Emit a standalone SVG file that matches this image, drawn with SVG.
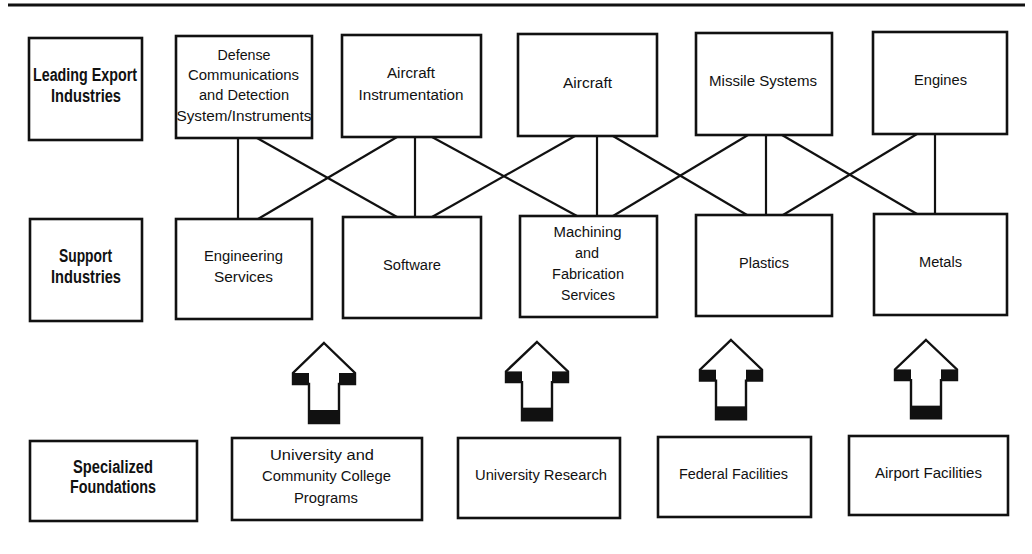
<svg xmlns="http://www.w3.org/2000/svg" width="1032" height="554" viewBox="0 0 1032 554">
<style>
.box{fill:#fff;stroke:#111;stroke-width:2.6}
.t{font-family:"Liberation Sans",Arial,sans-serif;font-size:14px;fill:#111;text-anchor:middle}
.b{font-family:"Liberation Sans",Arial,sans-serif;font-size:17.5px;font-weight:bold;fill:#111;text-anchor:middle}
.c line{stroke:#111;stroke-width:2.2}
.ar{fill:#fff;stroke:#111;stroke-width:2.4;stroke-linejoin:miter}
</style>
<defs>
<g id="arrow">
<polygon class="ar" points="0,0 31,30 31,41 15,41 15,80 -15,80 -15,41 -31,41 -31,30"/>
<rect x="-31" y="30" width="16" height="11" fill="#111"/>
<rect x="15" y="30" width="16" height="11" fill="#111"/>
<rect x="-15" y="67" width="30" height="13" fill="#111"/>
</g>
</defs>
<rect width="1032" height="554" fill="#fff"/>
<line x1="8" y1="5" x2="1025" y2="5" stroke="#111" stroke-width="3.2"/>

<g id="connectors" class="c">
<line x1="238" y1="138" x2="238" y2="219"/>
<line x1="415" y1="137" x2="415" y2="217"/>
<line x1="597" y1="136" x2="597" y2="216"/>
<line x1="766" y1="135" x2="766" y2="215"/>
<line x1="935" y1="134" x2="935" y2="214"/>
<line x1="257" y1="138" x2="397" y2="217"/>
<line x1="397" y1="137" x2="258" y2="219"/>
<line x1="432" y1="137" x2="577" y2="216"/>
<line x1="575" y1="136" x2="432" y2="217"/>
<line x1="613" y1="136" x2="747" y2="215"/>
<line x1="748" y1="135" x2="613" y2="216"/>
<line x1="782" y1="135" x2="917" y2="214"/>
<line x1="917" y1="134" x2="783" y2="215"/>
</g>

<g id="arrows">
<use href="#arrow" transform="translate(324,343)"/>
<use href="#arrow" transform="translate(537,342) translate(0,0) scale(1,0.98)"/>
<use href="#arrow" transform="translate(731,340) scale(1,0.99)"/>
<use href="#arrow" transform="translate(926,340) scale(1,0.98)"/>
</g>

<g id="label-leading">
<rect class="box" x="29" y="38" width="113" height="102"/>
<text class="b" x="85" y="81" textLength="104" lengthAdjust="spacingAndGlyphs">Leading Export</text>
<text class="b" x="86" y="102" textLength="70" lengthAdjust="spacingAndGlyphs">Industries</text>
</g>
<g id="defense">
<rect class="box" x="176" y="36" width="136" height="102"/>
<text class="t" x="244" y="60" textLength="53" lengthAdjust="spacingAndGlyphs">Defense</text>
<text class="t" x="243.5" y="80" textLength="111" lengthAdjust="spacingAndGlyphs">Communications</text>
<text class="t" x="244" y="100" textLength="90" lengthAdjust="spacingAndGlyphs">and Detection</text>
<text class="t" x="244" y="121" textLength="135" lengthAdjust="spacingAndGlyphs">System/Instruments</text>
</g>
<g id="aircraft-instrumentation">
<rect class="box" x="342" y="35" width="139" height="102"/>
<text class="t" x="411" y="78" textLength="48" lengthAdjust="spacingAndGlyphs">Aircraft</text>
<text class="t" x="411" y="100" textLength="105" lengthAdjust="spacingAndGlyphs">Instrumentation</text>
</g>
<g id="aircraft">
<rect class="box" x="518" y="34" width="139" height="102"/>
<text class="t" x="587.5" y="88" textLength="49" lengthAdjust="spacingAndGlyphs">Aircraft</text>
</g>
<g id="missile-systems">
<rect class="box" x="696" y="33" width="136" height="102"/>
<text class="t" x="763" y="86" textLength="108" lengthAdjust="spacingAndGlyphs">Missile Systems</text>
</g>
<g id="engines">
<rect class="box" x="873" y="32" width="134" height="102"/>
<text class="t" x="940.5" y="85" textLength="53" lengthAdjust="spacingAndGlyphs">Engines</text>
</g>

<g id="label-support">
<rect class="box" x="30" y="219" width="112" height="102"/>
<text class="b" x="85.5" y="262" textLength="53" lengthAdjust="spacingAndGlyphs">Support</text>
<text class="b" x="86" y="283" textLength="70" lengthAdjust="spacingAndGlyphs">Industries</text>
</g>
<g id="engineering-services">
<rect class="box" x="176" y="219" width="136" height="100"/>
<text class="t" x="243.5" y="261" textLength="79" lengthAdjust="spacingAndGlyphs">Engineering</text>
<text class="t" x="243.5" y="282" textLength="59" lengthAdjust="spacingAndGlyphs">Services</text>
</g>
<g id="software">
<rect class="box" x="343" y="217" width="138" height="101"/>
<text class="t" x="412" y="270" textLength="58" lengthAdjust="spacingAndGlyphs">Software</text>
</g>
<g id="machining">
<rect class="box" x="520" y="216" width="137" height="101"/>
<text class="t" x="587.5" y="237" textLength="68" lengthAdjust="spacingAndGlyphs">Machining</text>
<text class="t" x="587" y="258" textLength="24" lengthAdjust="spacingAndGlyphs">and</text>
<text class="t" x="588" y="279" textLength="72" lengthAdjust="spacingAndGlyphs">Fabrication</text>
<text class="t" x="588" y="300" textLength="54" lengthAdjust="spacingAndGlyphs">Services</text>
</g>
<g id="plastics">
<rect class="box" x="696" y="215" width="136" height="101"/>
<text class="t" x="764" y="268" textLength="50" lengthAdjust="spacingAndGlyphs">Plastics</text>
</g>
<g id="metals">
<rect class="box" x="874" y="214" width="133" height="101"/>
<text class="t" x="940.5" y="267" textLength="43" lengthAdjust="spacingAndGlyphs">Metals</text>
</g>

<g id="label-specialized">
<rect class="box" x="30" y="441" width="167" height="80"/>
<text class="b" x="113" y="473" textLength="80" lengthAdjust="spacingAndGlyphs">Specialized</text>
<text class="b" x="113" y="493" textLength="86" lengthAdjust="spacingAndGlyphs">Foundations</text>
</g>
<g id="university-programs">
<rect class="box" x="232" y="438" width="190" height="82"/>
<text class="t" x="322" y="460" textLength="104" lengthAdjust="spacingAndGlyphs">University and</text>
<text class="t" x="326.5" y="481" textLength="129" lengthAdjust="spacingAndGlyphs">Community College</text>
<text class="t" x="326" y="503" textLength="64" lengthAdjust="spacingAndGlyphs">Programs</text>
</g>
<g id="university-research">
<rect class="box" x="458" y="438" width="162" height="80"/>
<text class="t" x="541" y="480" textLength="132" lengthAdjust="spacingAndGlyphs">University Research</text>
</g>
<g id="federal-facilities">
<rect class="box" x="658" y="437" width="153" height="80"/>
<text class="t" x="733.5" y="479" textLength="109" lengthAdjust="spacingAndGlyphs">Federal Facilities</text>
</g>
<g id="airport-facilities">
<rect class="box" x="849" y="436" width="159" height="79"/>
<text class="t" x="928.5" y="478" textLength="107" lengthAdjust="spacingAndGlyphs">Airport Facilities</text>
</g>
</svg>
